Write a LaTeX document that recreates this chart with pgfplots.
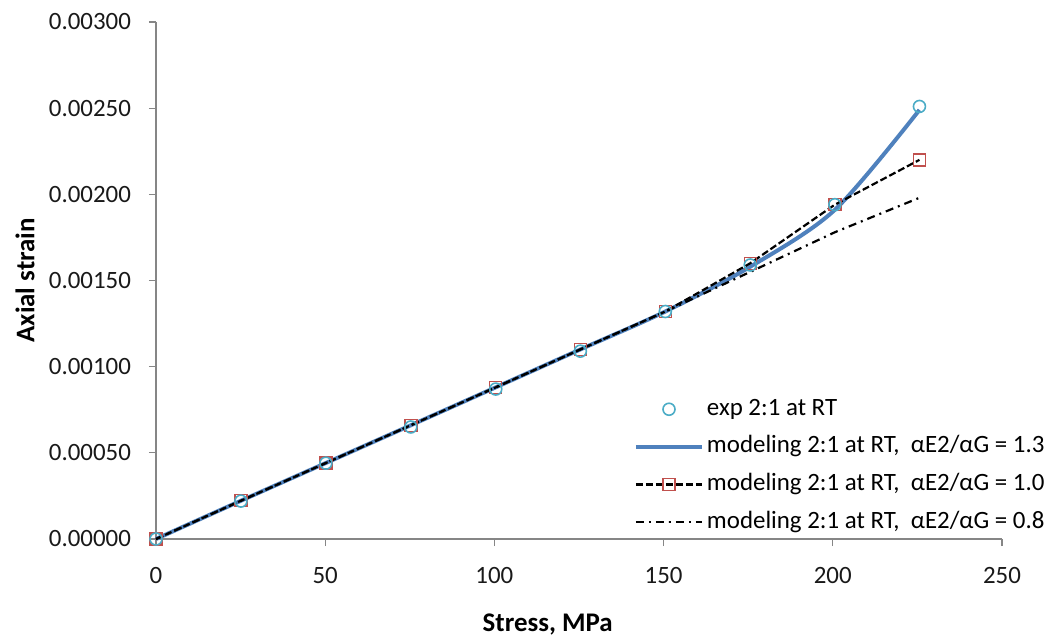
\documentclass[border=0pt]{standalone}
\usepackage{fontspec}
\setmainfont{Carlito}
\usepackage{pgfplots}
\pgfplotsset{compat=1.18}
\definecolor{axgray}{HTML}{868686}
\definecolor{lineblue}{HTML}{4F81BD}
\definecolor{circblue}{HTML}{4BACC6}
\definecolor{sqred}{HTML}{C0504D}
\begin{document}
\begin{tikzpicture}
\path[use as bounding box] (0,0) rectangle (527.5bp,318.5bp);
\begin{axis}[
  at={(78bp,49bp)}, anchor=south west,
  scale only axis, width=423bp, height=258.5bp,
  xmin=0, xmax=250, ymin=0, ymax=0.003,
  xtick={0,50,100,150,200,250},
  ytick={0,0.0005,0.001,0.0015,0.002,0.0025,0.003},
  scaled y ticks=false,
  axis x line*=bottom, axis y line*=left,
  axis line style={axgray, line width=0.6bp},
  tick style={axgray, line width=0.6bp},
  tick align=outside, major tick length=3.5bp,
  clip=false,
  /pgf/number format/assume math mode=true,
  yticklabel style={/pgf/number format/fixed, /pgf/number format/fixed zerofill, /pgf/number format/precision=5, xshift=-5.5bp},
  xticklabel style={yshift=-7bp},
  ticklabel style={font=\fontsize{12.5}{15}\selectfont, text=black!90},
  xlabel={Stress, MPa}, ylabel={Axial strain},
  label style={font=\fontsize{13.5}{16}\selectfont\bfseries},
  xlabel style={at={(axis description cs:0.463,-0.166)}, anchor=center},
  ylabel style={at={(axis description cs:-0.1548,0.5)}, anchor=center},
  legend style={draw=none, fill=none, inner sep=0pt, outer sep=0pt,
    at={(axis description cs:0.565,0.28)}, anchor=north west,
    font=\fontsize{12.5}{15}\selectfont, row sep=3.8bp, column sep=0bp,
    nodes={inner sep=1.5bp, text height=9bp, text depth=3bp},
    legend cell align=left},
  legend image code/.code={\draw[mark repeat=2,mark phase=2] plot coordinates {(0bp,0bp) (16.5bp,0bp) (33bp,0bp)};},
]
\addlegendimage{only marks, mark=o, mark size=3bp, circblue, mark options={line width=0.8bp}}
\addlegendentry{exp 2:1 at RT}

\addplot[lineblue, line width=2bp, smooth, no marks] coordinates {
(0,0) (25.1,0.000222) (50.2,0.000441) (75.3,0.00066) (100.4,0.00088)
(125.4,0.0011) (150.5,0.00132) (175.6,0.00158) (200.6,0.00191) (225.6,0.00249)};
\addlegendentry{modeling 2:1 at RT,\ \ αE2/αG = 1.3}

\addplot[black, line width=1.1bp, dash pattern=on 3.5bp off 1.5bp, mark=square, mark size=3bp,
  mark options={sqred, solid, line width=0.7bp}] coordinates {
(0,0) (25.1,0.000222) (50.2,0.000441) (75.3,0.00066) (100.4,0.00088)
(125.4,0.0011) (150.5,0.00132) (175.6,0.0016) (200.6,0.00194) (225.6,0.0022)};
\addlegendentry{modeling 2:1 at RT,\ \ αE2/αG = 1.0}

\addplot[black, line width=1.1bp, dash pattern=on 4bp off 2.5bp on 1bp off 2.5bp, no marks] coordinates {
(0,0) (25.1,0.000222) (50.2,0.000441) (75.3,0.00066) (100.4,0.00088)
(125.4,0.0011) (150.5,0.00132) (175.6,0.00155) (200.6,0.00178) (225.6,0.00198)};
\addlegendentry{modeling 2:1 at RT,\ \ αE2/αG = 0.8}

\addplot[only marks, forget plot, mark=o, mark size=3bp, circblue, mark options={line width=0.8bp}] coordinates {
(0,0) (25.1,0.00022) (50.2,0.00044) (75.3,0.00065) (100.4,0.00087)
(125.4,0.00109) (150.5,0.00132) (175.6,0.00159) (200.6,0.00194) (225.6,0.00251)};
\end{axis}
\end{tikzpicture}
\end{document}
